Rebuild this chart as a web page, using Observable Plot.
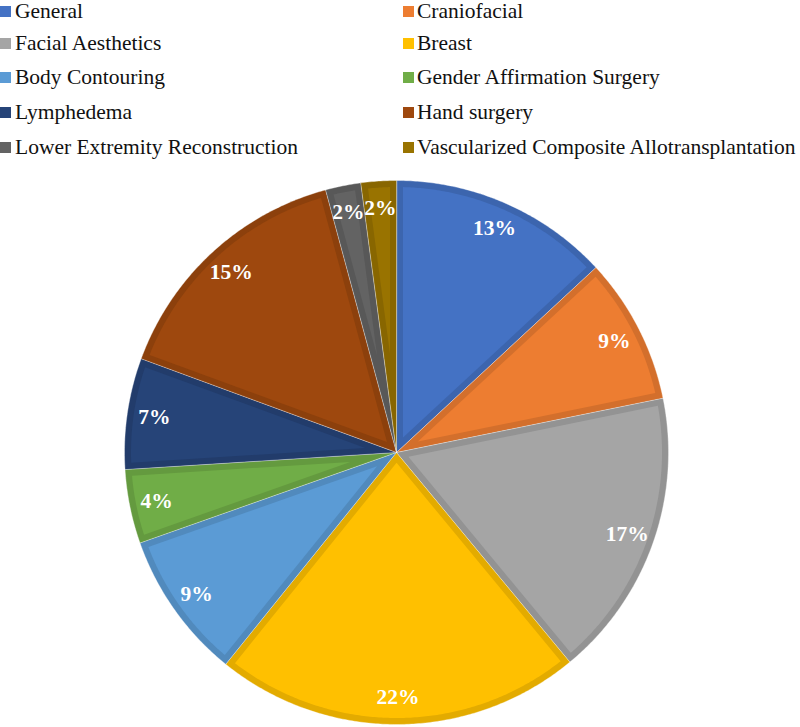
<!DOCTYPE html>
<html><head><meta charset="utf-8">
<script src="https://cdn.jsdelivr.net/npm/d3@7"></script>
<script src="https://cdn.jsdelivr.net/npm/@observablehq/plot@0.6"></script>
<style>
body{margin:0;background:#fff;width:800px;height:727px;overflow:hidden;font-family:"Liberation Serif","Times New Roman",Times,serif;}
#legend{position:relative;height:160px;width:800px;}
.item{position:absolute;font-size:21.5px;line-height:22px;height:22px;color:#111;white-space:nowrap}
.sw{position:absolute;width:11px;height:11px;}
#chart svg{display:block}
</style></head><body>
<div id="legend"></div><div id="chart"></div>
<script>
const categories = ["General","Craniofacial","Facial Aesthetics","Breast","Body Contouring","Gender Affirmation Surgery","Lymphedema","Hand surgery","Lower Extremity Reconstruction","Vascularized Composite Allotransplantation"];
const values = [13.1, 8.7, 17.2, 21.8, 8.8, 4.4, 6.6, 15.2, 2.1, 2.1];
const colors = ["#4472C4","#ED7D31","#A5A5A5","#FFC000","#5B9BD5","#70AD47","#264478","#9E480E","#636363","#997300"];
const labels = values.map(v => Math.round(v) + "%");

// Legend (HTML, above the SVG)
const legend = document.getElementById("legend");
categories.forEach((c, i) => {
  const col = i % 2, row = Math.floor(i / 2);
  const top = Math.max(0, 15.5 + row * 34.6 - 18.3);
  const sw = document.createElement("div");
  sw.className = "sw";
  sw.style.left = (col ? 403 : 0) + "px";
  sw.style.top = (top + 6) + "px";
  sw.style.background = colors[i];
  legend.appendChild(sw);
  const t = document.createElement("div");
  t.className = "item";
  t.style.left = (col ? 417 : 15) + "px";
  t.style.top = top + "px";
  t.textContent = c;
  legend.appendChild(t);
});

// Pie geometry from data
const dark = colors.map(c => d3.color(c).darker(0.33).formatHex());
const arcs = d3.pie().sort(null).value(v => v)(values);
const inset = 6.5 / 272;
const step = Math.PI / 360;
const outer = [], inner = [], labelData = [];
arcs.forEach((p, i) => {
  const a0 = p.startAngle, a1 = p.endAngle;
  const n = Math.max(2, Math.ceil((a1 - a0) / step));
  outer.push({k: i, x: 0, y: 0, c: dark[i]});
  for (let j = 0; j <= n; j++) {
    const a = a0 + (a1 - a0) * j / n;
    outer.push({k: i, x: Math.sin(a), y: Math.cos(a), c: dark[i]});
  }
  const half = (a1 - a0) / 2, mid = (a0 + a1) / 2;
  const ra = inset / Math.sin(half);
  inner.push({k: i, x: ra * Math.sin(mid), y: ra * Math.cos(mid), c: colors[i]});
  const r = 1 - inset, da = Math.asin(inset / r);
  const b0 = a0 + da, b1 = a1 - da;
  for (let j = 0; j <= n; j++) {
    const a = b0 + (b1 - b0) * j / n;
    inner.push({k: i, x: r * Math.sin(a), y: r * Math.cos(a), c: colors[i]});
  }
  labelData.push({x: 0.9 * Math.sin(mid), y: 0.9 * Math.cos(mid), text: labels[i]});
});

const chart = Plot.plot({
  width: 800, height: 567,
  marginLeft: 124, marginRight: 132, marginTop: 20, marginBottom: 3,
  x: {domain: [-1, 1], axis: null},
  y: {domain: [-1, 1], axis: null},
  color: {type: "identity"},
  marks: [
    Plot.line(outer, {x: "x", y: "y", z: "k", fill: "c", stroke: "white", strokeOpacity: 0.35, strokeWidth: 1, curve: "linear-closed"}),
    Plot.line(inner, {x: "x", y: "y", z: "k", fill: "c", stroke: "none", curve: "linear-closed"}),
    Plot.text(labelData, {x: "x", y: "y", text: "text", fill: "white", fontSize: 21.5, fontWeight: "bold", fontFamily: "Liberation Serif"})
  ]
});
document.getElementById("chart").appendChild(chart);
</script>
</body></html>
